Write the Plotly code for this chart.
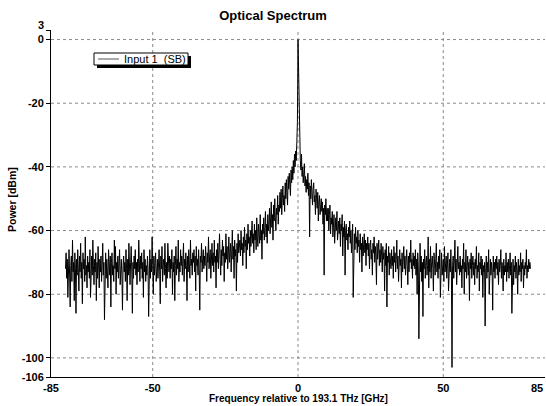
import numpy as np
import plotly.graph_objects as go

# ---- data (dBm), sections sampled every 0.2 GHz ----
STEP = 0.2
left_floor = [  # starts at -80.0
    -72, -67, -75, -69, -81, -70, -66, -74, -84, -71, -68, -76, -63, -73, -70, -82, -67, -72, -86, -69,
    -74, -66, -71, -79, -68, -73, -64, -75, -70, -83, -67, -72, -69, -76, -62, -74, -71, -78, -68, -73,
    -70, -75, -66, -81, -72, -68, -74, -63, -71, -77, -69, -73, -67, -82, -70, -75, -65, -72, -78, -69,
    -73, -68, -76, -71, -64, -74, -70, -88, -72, -67, -75, -69, -73, -78, -66, -71, -74, -68, -84, -70,
    -67, -74, -71, -76, -63, -72, -65, -80, -70, -73, -68, -75, -71, -66, -77, -72, -69, -74, -85, -71,
    -68, -73, -70, -76, -66, -72, -82, -69, -74, -64, -71, -77, -70, -65, -73, -86, -70, -75, -68, -72,
    -66, -74, -70, -77, -69, -73, -63, -71, -76, -68, -72, -67, -75, -70, -81, -66, -73, -69, -76, -71,
    -74, -68, -72, -87, -70, -66, -75, -69, -73, -62, -71, -80, -68, -74, -70, -67, -76, -72, -69, -75,
    -70, -66, -73, -83, -68, -72, -65, -76, -71, -69, -74, -64, -72, -78, -70, -75, -64, -71, -73, -68,
    -75, -69, -72, -66, -80, -70, -73, -68, -82, -71, -65, -74, -69, -72, -63, -76, -70, -73, -66, -71,
]
left_rise = [  # starts at -40.0
    -68, -74, -70, -64, -76, -69, -72, -67, -71, -82, -68, -73, -66, -70, -75, -63, -71, -69, -74, -67,
    -70, -66, -73, -68, -79, -65, -71, -69, -74, -66, -72, -85, -68, -70, -64, -73, -69, -66, -72, -68,
    -71, -65, -69, -76, -67, -70, -62, -72, -68, -66, -75, -69, -64, -71, -67, -73, -63, -70, -68, -78,
    -66, -70, -64, -72, -68, -61, -69, -74, -66, -71, -63, -68, -65, -76, -67, -70, -61, -69, -65, -72,
    -68, -62, -70, -66, -64, -73, -67, -60, -69, -65, -75, -63, -68, -66, -79, -64, -70, -61, -67, -65,
]
left_shoulder = [  # starts at -20.0
    -63, -68, -60, -66, -64, -71, -62, -67, -59, -65, -63, -72, -61, -66, -58, -64, -62, -68, -60, -65,
    -62, -57, -64, -61, -67, -58, -63, -60, -66, -56, -62, -65, -58, -61, -64, -55, -63, -60, -69, -58,
    -61, -56, -63, -59, -54, -62, -58, -64, -55, -60,
]
left_near = [  # starts at -10.0
    -58, -53, -61, -56, -51, -59, -55, -63, -52, -57, -50, -56, -60, -53, -55, -49, -58, -52, -54, -48,
    -53, -47, -55, -50, -46, -52, -49, -54, -45, -50, -44, -48, -52, -43, -47, -42, -46, -49, -41, -45,
    -40, -44, -38, -42, -36, -40, -35, -38, -32, -26,
]
carrier = [0]  # at 0.0
right_near = [  # starts at 0.2
    -12, -29, -35, -38, -41, -36, -43, -40, -45, -42, -39, -46, -43, -48, -44, -47, -42, -49, -45, -62,
    -46, -50, -44, -48, -52, -47, -45, -51, -49, -55, -47, -50, -53, -48, -57, -51, -49, -55, -52, -50,
    -54, -51, -58, -53, -74, -52, -55, -50, -57, -53,
]
right_shoulder = [  # starts at 10.2
    -57, -53, -60, -55, -52, -61, -56, -58, -54, -62, -57, -55, -64, -58, -56, -60, -54, -63, -59, -57,
    -61, -56, -65, -58, -60, -55, -68, -59, -62, -57, -74, -60, -58, -63, -61, -66, -59, -62, -57, -64,
    -60, -67, -62, -58, -81, -63, -61, -66, -59, -64,
]
right_fall = [  # starts at 20.2
    -62, -67, -60, -65, -63, -70, -61, -66, -64, -73, -62, -68, -65, -61, -67, -63, -71, -64, -66, -62,
    -68, -64, -72, -65, -63, -69, -66, -74, -64, -67, -62, -70, -65, -68, -77, -64, -69, -66, -63, -71,
    -66, -70, -64, -68, -73, -65, -69, -67, -79, -66, -71, -64, -84, -68, -70, -65, -74, -67, -69, -72,
    -66, -71, -68, -75, -65, -70, -67, -73, -69, -63, -72, -68, -76, -70, -66, -71, -69, -78, -67, -73,
    -70, -65, -72, -68, -74, -69, -66, -71, -77, -68, -73, -67, -70, -63, -72, -69, -75, -67, -71, -68,
]
right_floor = [  # starts at 40.2
    -72, -66, -74, -69, -80, -67, -71, -94, -70, -64, -73, -68, -76, -70, -87, -69, -72, -66, -75, -70,
    -68, -74, -71, -62, -78, -69, -73, -65, -75, -70, -68, -72, -79, -67, -71, -74, -69, -64, -73, -70,
    -75, -68, -72, -66, -81, -70, -67, -74, -71, -69, -76, -65, -73, -70, -68, -75, -72, -67, -79, -70,
    -69, -73, -66, -74, -103, -71, -68, -75, -70, -63, -73, -69, -77, -71, -65, -72, -70, -74, -68, -73,
    -71, -78, -69, -72, -64, -80, -70, -73, -66, -75, -71, -68, -74, -70, -82, -69, -72, -67, -75, -71,
    -68, -74, -70, -77, -69, -72, -65, -75, -71, -73, -67, -79, -70, -72, -68, -74, -69, -81, -71, -73,
    -70, -90, -72, -68, -75, -70, -73, -66, -80, -71, -69, -74, -70, -72, -85, -68, -73, -70, -75, -69,
    -72, -68, -74, -70, -77, -69, -73, -71, -66, -75, -70, -72, -79, -69, -74, -71, -73, -67, -76, -70,
    -73, -69, -75, -71, -67, -74, -70, -86, -72, -69, -77, -71, -73, -68, -75, -70, -72, -80, -69, -74,
    -71, -73, -67, -76, -70, -72, -69, -78, -71, -74, -70, -72, -66, -75, -71, -73, -69, -72, -70, -72,
]
section_starts = [-80.0, -40.0, -20.0, -10.0, 0.0, 0.2, 10.2, 20.2, 40.2]
sections = [left_floor, left_rise, left_shoulder, left_near, carrier,
            right_near, right_shoulder, right_fall, right_floor]

freq, power = [], []
for start, vals in zip(section_starts, sections):
    freq.extend(np.round(start + STEP * np.arange(len(vals)), 2).tolist())
    power.extend(vals)

x_ticks = [-85, -50, 0, 50, 85]
x_tick_text = ["-85", "-50", "0", "50", ""]
y_ticks = [3, 0, -20, -40, -60, -80, -100, -106]
y_tick_text = ["", "0", "-20", "-40", "-60", "-80", "-100", "-106"]
x_grid = [-50, 0, 50]
y_grid = [0, -20, -40, -60, -80, -100]

FONT = "Arial, 'Liberation Sans', sans-serif"

fig = go.Figure()
fig.add_trace(go.Scatter(x=freq, y=power, mode="lines", name="Input 1  (SB)",
                         line=dict(color="black", width=1), showlegend=False))

shapes = []
for gx in x_grid:
    shapes.append(dict(type="line", xref="x", yref="paper", x0=gx, x1=gx, y0=0, y1=1,
                       line=dict(color="#8a8a8a", width=1, dash="dot"), layer="below"))
for gy in y_grid:
    shapes.append(dict(type="line", xref="paper", yref="y", x0=0, x1=1, y0=gy, y1=gy,
                       line=dict(color="#8a8a8a", width=1, dash="dot"), layer="below"))

def px_x(p):
    return (p - 51) / 494.0
def px_y(p):
    return (377 - p) / 347.0

# legend box (drawn manually) with shadow
shapes.append(dict(type="rect", xref="paper", yref="paper",
                   x0=px_x(97), x1=px_x(191), y0=px_y(68), y1=px_y(56),
                   fillcolor="black", line=dict(width=0), layer="above"))
shapes.append(dict(type="rect", xref="paper", yref="paper",
                   x0=px_x(94), x1=px_x(188), y0=px_y(65), y1=px_y(53),
                   fillcolor="white", line=dict(color="black", width=1), layer="above"))
shapes.append(dict(type="line", xref="paper", yref="paper",
                   x0=px_x(98), x1=px_x(119), y0=px_y(59), y1=px_y(59),
                   line=dict(color="#555555", width=1), layer="above"))

annotations = [
    dict(text="Input 1  (SB)", xref="paper", yref="paper", x=px_x(122), y=px_y(59),
         xanchor="left", yanchor="middle", showarrow=False,
         font=dict(family=FONT, size=11, color="black")),
    dict(text="<b>85</b>", xref="x", yref="paper", x=85, y=0, yshift=-3,
         xanchor="right", yanchor="top", showarrow=False,
         font=dict(family=FONT, size=11, color="black")),
    dict(text="<b>3</b>", xref="paper", yref="y", x=0, y=3, xshift=-5, yshift=5,
         xanchor="right", yanchor="middle", showarrow=False,
         font=dict(family=FONT, size=11, color="black")),
    dict(text="<b>Frequency relative to 193.1 THz [GHz]</b>", xref="paper", yref="paper",
         x=px_x(298), y=px_y(406), xanchor="center", yanchor="bottom", showarrow=False,
         font=dict(family=FONT, size=10, color="black")),
    dict(text="<b>Power [dBm]</b>", xref="paper", yref="paper",
         x=px_x(12), y=px_y(200), xanchor="center", yanchor="middle", showarrow=False,
         textangle=-90, font=dict(family=FONT, size=10.5, color="black")),
]

fig.update_layout(
    width=546, height=406,
    margin=dict(l=51, r=1, t=30, b=29),
    paper_bgcolor="white", plot_bgcolor="white",
    title=dict(text="<b>Optical Spectrum</b>", x=0.5, xref="container",
               y=1 - 15 / 406, yref="container", xanchor="center", yanchor="middle",
               font=dict(family=FONT, size=13, color="black")),
    shapes=shapes, annotations=annotations,
    font=dict(family=FONT, size=11, color="black"),
)
fig.update_xaxes(range=[-85, 85], tickvals=x_ticks,
                 ticktext=[f"<b>{t}</b>" if t else "" for t in x_tick_text],
                 showgrid=False, zeroline=False, showline=True, linecolor="black", linewidth=1,
                 ticks="", ticklabelstandoff=1, automargin=False,
                 tickfont=dict(family=FONT, size=11, color="black"))
fig.update_yaxes(range=[-106, 3], tickvals=y_ticks,
                 ticktext=[f"<b>{t}</b>" if t else "" for t in y_tick_text],
                 showgrid=False, zeroline=False, showline=True, linecolor="black", linewidth=1,
                 ticks="outside", ticklen=4, tickcolor="black", automargin=False,
                 tickfont=dict(family=FONT, size=11, color="black"))

fig.write_html("out.html", post_script="document.body.style.margin='0';",
               config={"displayModeBar": False})
